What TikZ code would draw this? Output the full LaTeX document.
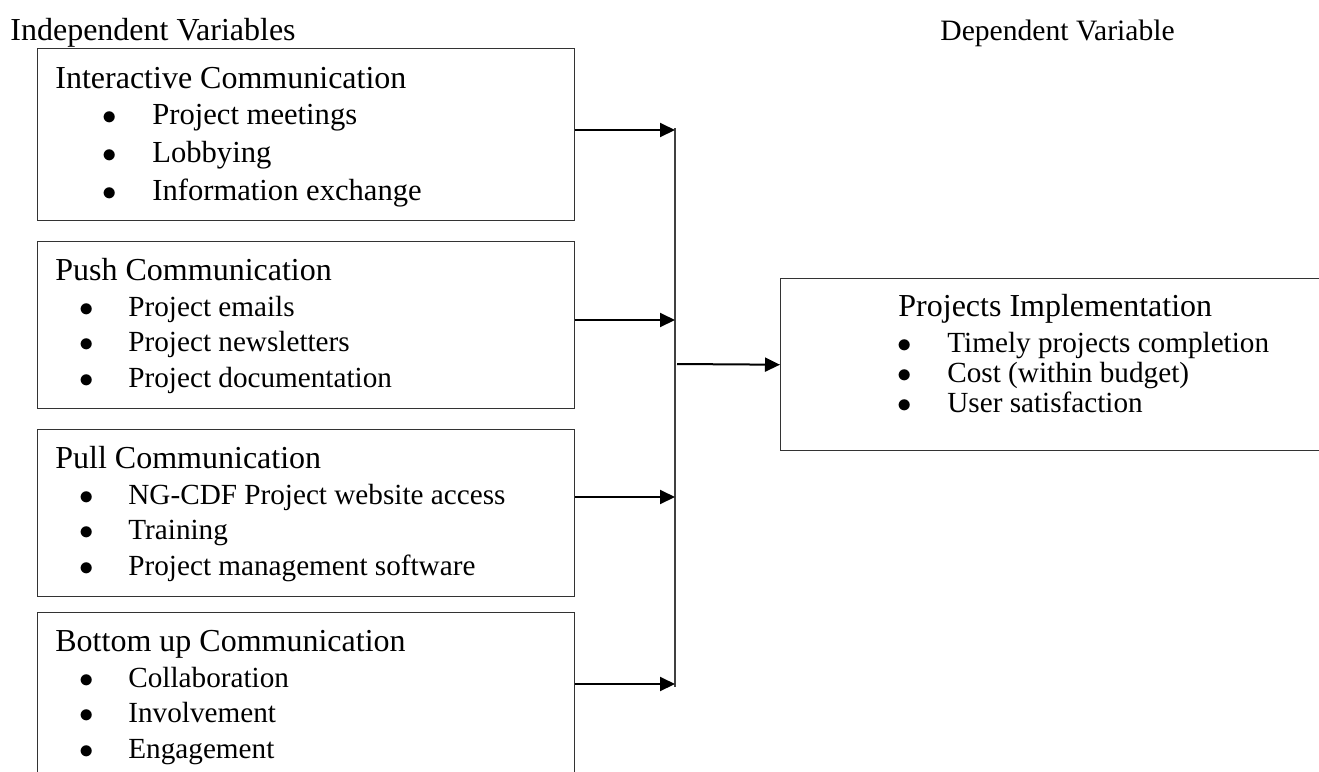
\documentclass[tikz,border=0pt]{standalone}
\usepackage{fontspec}
\setmainfont{Liberation Serif}
\usetikzlibrary{arrows.meta, positioning}

\begin{document}
\begin{tikzpicture}[
    x=0.5pt, y=-0.5pt,
    every node/.style={inner sep=0pt, anchor=base west},
    varlabel/.style={font=\fontsize{16}{18}\selectfont},
    group/.style={draw=black!80, line width=0.7pt, anchor=north west,
                  minimum width=268.5pt, minimum height=83.5pt},
    head/.style={font=\fontsize{16}{18}\selectfont},
    bigitem/.style={font=\fontsize{15.3}{18}\selectfont},
    subitem/.style={font=\fontsize{14.6}{18}\selectfont},
    link/.style={-{Triangle[length=7.5pt, width=7pt]}, line width=1pt}
]
\useasboundingbox (0,0) rectangle (1319,772);

% column headings
\node[varlabel] (indep) at (10,40) {Independent Variables};
\node[varlabel, font=\fontsize{14.8}{18}\selectfont] (dep) at (940,40) {Dependent Variable};

% independent variables
\node[group, minimum height=86pt] (ic) at (37,48) {};
\node[head] (ic-h) at (55,88) {Interactive Communication};
\foreach \txt [count=\k] in {Project meetings, Lobbying, Information exchange}
  \node[bigitem] (ic-\k) at (102,{86+38*\k}) {\makebox[25pt][l]{$\bullet$}\txt};

\node[group] (push) at (37,241) {};
\node[head] (push-h) at (55,280) {Push Communication};
\foreach \txt [count=\k] in {Project emails, Project newsletters, Project documentation}
  \node[subitem] (push-\k) at (79,{280.5+35.5*\k}) {\makebox[24.5pt][l]{$\bullet$}\txt};

\node[group] (pull) at (37,429) {};
\node[head] (pull-h) at (55,468) {Pull Communication};
\foreach \txt [count=\k] in {NG-CDF Project website access, Training, Project management software}
  \node[subitem] (pull-\k) at (79,{468.5+35.5*\k}) {\makebox[24.5pt][l]{$\bullet$}\txt};

\node[group] (bu) at (37,612) {};
\node[head] (bu-h) at (55,651) {Bottom up Communication};
\foreach \txt [count=\k] in {Collaboration, Involvement, Engagement}
  \node[subitem] (bu-\k) at (79,{651.5+35.5*\k}) {\makebox[24.5pt][l]{$\bullet$}\txt};

% dependent variable
\node[group, minimum width=271pt, minimum height=86pt] (impl) at (780,278) {};
\node[head] (impl-h) at (898,316) {Projects Implementation};
\foreach \txt [count=\k] in {Timely projects completion, Cost (within budget), User satisfaction}
  \node[subitem] (impl-\k) at (897,{322+30*\k}) {\makebox[25pt][l]{$\bullet$}\txt};

% connectors
\coordinate (bus-top) at (675,128);
\coordinate (bus-bot) at (675,687);
\coordinate (in-1) at (675,130);
\coordinate (in-2) at (675,320);
\coordinate (in-3) at (675,497);
\coordinate (in-4) at (675,684);
\coordinate (merge) at (677,364);
\draw[black!75, line width=0.7pt] (bus-top) -- (bus-bot);
\draw[link] (ic.east |- in-1) -- (in-1);
\draw[link] (push.east |- in-2) -- (in-2);
\draw[link] (pull.east |- in-3) -- (in-3);
\draw[link] (bu.east |- in-4) -- (in-4);
\draw[link] (merge) -- (impl.west);
\end{tikzpicture}
\end{document}
